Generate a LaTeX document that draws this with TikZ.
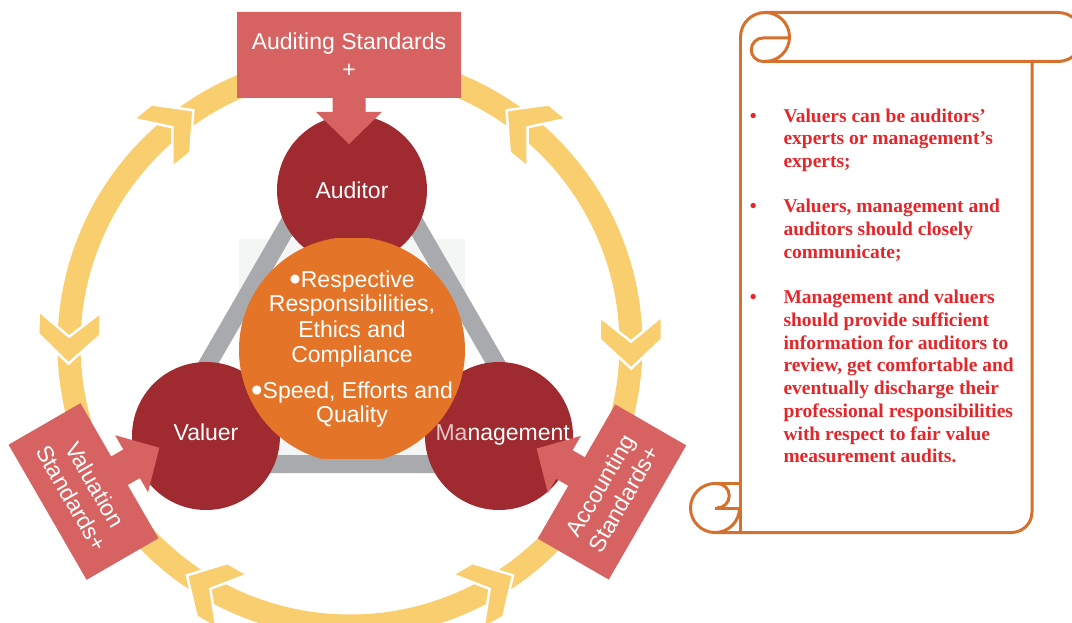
\documentclass[tikz,border=0pt]{standalone}
\usepackage{fontspec}
\setmainfont{Liberation Sans}
\newfontfamily\scrollfont{Liberation Serif}
\definecolor{boxc}{RGB}{214,99,97}
\definecolor{circ}{RGB}{159,42,47}
\definecolor{orng}{RGB}{228,117,40}
\definecolor{ylw}{RGB}{248,206,110}
\definecolor{gry}{RGB}{168,170,173}
\definecolor{scrl}{RGB}{214,112,45}
\definecolor{txtr}{RGB}{228,38,42}
\definecolor{pale}{RGB}{244,245,245}
\definecolor{mafade}{RGB}{228,196,196}
\newcommand{\calloutpath}[2]{(-#1,#2) -- (#1,#2) -- (#1,-#2) -- (16.5,-#2) -- (16.5,{-#2-14}) -- (33,{-#2-14}) -- (0,{-#2-46}) -- (-33,{-#2-14}) -- (-16.5,{-#2-14}) -- (-16.5,-#2) -- (-#1,-#2) -- cycle}
\newcommand{\bigbul}{\raisebox{-3.5pt}{\fontsize{33}{28}\selectfont •}}
\tikzset{
  chev/.pic={\filldraw[fill=ylw,draw=white,line width=2.5pt,line join=miter]
     (-26,31) -- (-3,31) -- (26,0) -- (-3,-31) -- (-26,-31) -- (-1,0) -- cycle;},
  lbl/.style={text=white,font=\fontsize{23}{28}\selectfont,inner sep=0pt},
  rlbl/.style={text=white,align=center,font=\fontsize{23}{27}\selectfont,inner sep=0pt},
  bull/.style={text=txtr,font=\scrollfont\bfseries\fontsize{19.5}{22.7}\selectfont,inner sep=0pt},
  bigdisc/.style={circle,fill=circ,minimum size=#1,inner sep=0pt},
  scrollline/.style={draw=scrl,line width=3pt},
}
\begin{document}
\begin{tikzpicture}[x=1pt,y=1pt]
\useasboundingbox (0,0) rectangle (1072,-623);
\clip (0,0) rectangle (1072,-623);
% ring
\draw[ylw,line width=23pt] (350,-345) circle (281);
\foreach \pa/\da in {129/39, 51/141, 178.5/268.5, 0.5/-89.5, 240/150, 300/30}
  \pic[rotate=\da] at ({350+281*cos(\pa)},{-345+281*sin(\pa)}) {chev};
% white gaps beside arrow stems
\begin{scope}[shift={(349,-55)}]
  \fill[white] (-33,-43) rectangle (33,-57);
\end{scope}
\begin{scope}[shift={(83.5,-491.5)},rotate=120]
  \fill[white] (-33,-41.5) rectangle (33,-55.5);
\end{scope}
\begin{scope}[shift={(612,-492)},rotate=-120]
  \fill[white] (-33,-41) rectangle (33,-55);
\end{scope}
% pale picture background
\fill[pale] (239,-239) rectangle (465,-458);
% triangle
\coordinate (tA) at (352,-114);
\coordinate (tV) at (150,-464);
\coordinate (tM) at (554,-464);
\draw[gry,line width=18pt,line join=round] (tA) -- (tV) -- (tM) -- cycle;
% circles
\node[bigdisc=150pt] (aud) at (352,-190) {};
\node[bigdisc=148pt] (val) at (206,-436) {};
\node[bigdisc=148pt] (man) at (499,-436) {};
% orange centre
\begin{scope}
  \clip (239,-239) rectangle (465,-458);
  \fill[orng] (352,-350) circle (113);
\end{scope}
% callouts
\begin{scope}[shift={(349,-55)}]
  \fill[boxc] \calloutpath{112}{43};
\end{scope}
\begin{scope}[shift={(83.5,-491.5)},rotate=120]
  \fill[boxc] \calloutpath{78}{41.5};
\end{scope}
\begin{scope}[shift={(612,-492)},rotate=-120]
  \fill[boxc] \calloutpath{77.5}{41};
\end{scope}
% texts
\node[lbl,anchor=base] (at1) at (349,-50) {Auditing Standards};
\node[lbl,anchor=base] (at2) at (349,-78) {+};
\node[rlbl,rotate=-60] (vs) at (83.5,-491.5) {Valuation\\Standards+};
\node[rlbl,rotate=60] (as) at (612,-492) {Accounting\\Standards+};
\node[lbl,anchor=base] (audt) at (352,-198.3) {Auditor};
\node[lbl,anchor=base] (valt) at (206,-440) {Valuer};
\node[lbl,anchor=base] (mant) at (502.7,-440) {{\color{mafade}Ma}nagement};
\node[lbl,anchor=base] (c1) at (352,-287.3) {\bigbul Respective};
\node[lbl,anchor=base] (c2) at (352,-311.7) {Responsibilities,};
\node[lbl,anchor=base] (c3) at (352,-337.3) {Ethics and};
\node[lbl,anchor=base] (c4) at (352,-362.5) {Compliance};
\node[lbl,anchor=base] (c5) at (352,-398.3) {\bigbul Speed, Efforts and};
\node[lbl,anchor=base] (c6) at (352,-422.3) {Quality};
% scroll
\draw[scrollline] (740,-37) -- (740,-532.5);
\draw[scrollline] (765,-12.5) -- (1058,-12.5) arc[start angle=90,end angle=-90,radius=24.5] -- (763,-61.5);
\draw[scrollline] (765,-61.5) arc[start angle=-90,end angle=180,radius=24.5];
\draw[scrollline] (763,-61.5) arc[start angle=-90,end angle=-270,radius=11.75] -- (789.5,-38);
\draw[scrollline] (1032,-61.5) -- (1032,-512) arc[start angle=0,end angle=-90,radius=20.5] -- (715,-532.5);
\draw[scrollline] (715,-483.5) arc[start angle=90,end angle=360,radius=24.5];
\draw[scrollline] (715,-483.5) -- (740,-483.5);
\draw[scrollline] (717,-483.5) arc[start angle=90,end angle=-90,radius=12.25];
\draw[scrollline] (715,-508) -- (740,-508);
\foreach \k/\t [count=\i] in {0/{Valuers can be auditors’}, 1/{experts or management’s}, 2/{experts;},
  4/{Valuers, management and}, 5/{auditors should closely}, 6/{communicate;},
  8/{Management and valuers}, 9/{should provide sufficient}, 10/{information for auditors to},
  11/{review, get comfortable and}, 12/{eventually discharge their}, 13/{professional responsibilities},
  14/{with respect to fair value}, 15/{measurement audits.}}
  \node[bull,anchor=base west] (s\i) at (783.3,{-122.2-22.7*\k}) {\t};
\foreach \k [count=\i] in {0,4,8}
  \node[bull,anchor=base] (b\i) at (753.3,{-122.2-22.7*\k}) {•};
\end{tikzpicture}
\end{document}
